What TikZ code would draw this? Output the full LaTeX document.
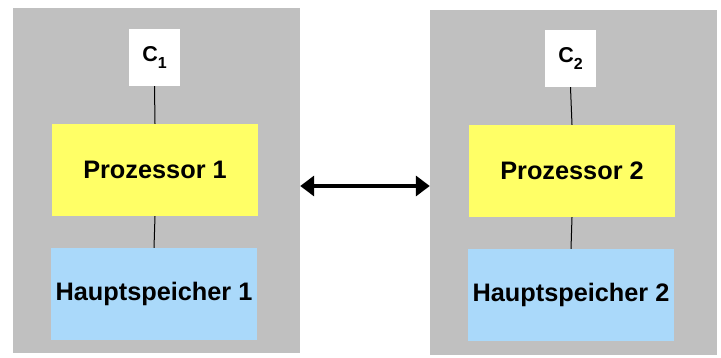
\documentclass[tikz,border=0pt]{standalone}
\usepackage{fontspec}
\setmainfont{Liberation Sans}
\usetikzlibrary{arrows.meta}
\definecolor{cellgray}{RGB}{192,192,192}
\definecolor{cpuyellow}{RGB}{255,255,102}
\definecolor{memblue}{RGB}{170,217,250}
\tikzset{
  unit/.style={fill=cellgray, draw=none, minimum width=287pt, minimum height=345pt, inner sep=0pt},
  cache/.style={fill=white, draw=none, minimum width=51pt, minimum height=57pt, inner sep=0pt,
    font=\bfseries\fontsize{21.5}{24}\selectfont},
  cpu/.style={fill=cpuyellow, draw=none, minimum width=206pt, minimum height=92pt, inner sep=0pt,
    font=\bfseries\fontsize{25.3}{28}\selectfont},
  mem/.style={fill=memblue, draw=none, minimum width=206pt, minimum height=92pt, inner sep=0pt,
    font=\bfseries\fontsize{25.3}{28}\selectfont},
  wire/.style={draw=black, line width=1pt},
  link/.style={draw=black, line width=4pt, {Triangle[length=14pt,width=20pt]}-{Triangle[length=14pt,width=20pt]}}
}
\newcommand{\cachelabel}[1]{C\raisebox{-6.5pt}{\fontsize{16}{16}\selectfont #1}}
\begin{document}
\begin{tikzpicture}[x=1pt,y=-1pt]
\useasboundingbox (0,0) rectangle (721,358);
% two processing units
\node[unit] (g1) at (156.5,181) {};
\node[unit] (g2) at (573.5,183) {};
% caches
\node[cache] (c1) at (154.5,57.5) {\cachelabel{1}};
\node[cache] (c2) at (570.5,58.5) {\cachelabel{2}};
% processors
\node[cpu] (p1) at (155,170) {Prozessor 1};
\node[cpu] (p2) at (572,171) {Prozessor 2};
% main memories
\node[mem] (h1) at (154,294) {Hauptspeicher 1};
\node[mem] (h2) at (571,295) {Hauptspeicher 2};
% internal connections
\draw[wire] (c1.south) -- (p1.north);
\draw[wire] (p1.south) -- (h1.north);
\draw[wire] (c2.south) -- (p2.north);
\draw[wire] (p2.south) -- (h2.north);
% interconnect between the units
\draw[link] ([yshift=-5pt]g1.east) -- ([yshift=-5pt]g1.east -| g2.west);
\end{tikzpicture}
\end{document}
